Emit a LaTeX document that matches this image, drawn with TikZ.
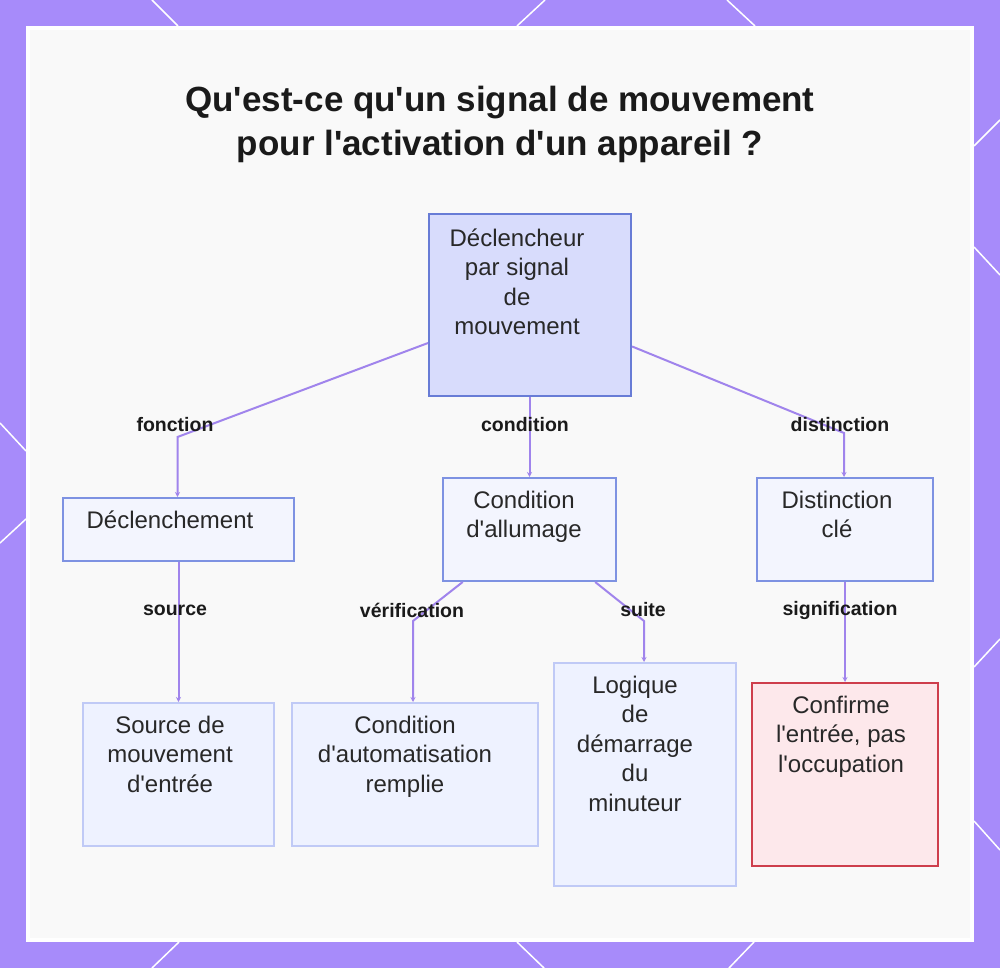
\documentclass[tikz,border=0pt]{standalone}
\usepackage{fontspec}
\setmainfont{Liberation Sans}[Ligatures=TeXOff]
\usetikzlibrary{arrows.meta,calc}
\definecolor{bgpurple}{RGB}{167,139,250}
\definecolor{panelfill}{RGB}{249,249,249}
\definecolor{textdark}{RGB}{40,40,40}
\definecolor{titledark}{RGB}{26,26,26}
\definecolor{connc}{RGB}{160,132,236}
\definecolor{rootfill}{RGB}{216,220,252}
\definecolor{rootdraw}{RGB}{104,124,214}
\definecolor{midfill}{RGB}{243,245,254}
\definecolor{middraw}{RGB}{126,146,226}
\definecolor{leaffill}{RGB}{238,242,255}
\definecolor{leafdraw}{RGB}{192,202,246}
\definecolor{redfill}{RGB}{253,232,235}
\definecolor{reddraw}{RGB}{206,62,76}
\begin{document}
\begin{tikzpicture}[x=1pt,y=-1pt,
  boxbase/.style={rectangle, anchor=north west, inner sep=0, line width=2pt},
  rootbox/.style={boxbase, fill=rootfill, draw=rootdraw},
  midbox/.style={boxbase, fill=midfill, draw=middraw},
  leafbox/.style={boxbase, fill=leaffill, draw=leafdraw},
  redbox/.style={boxbase, fill=redfill, draw=reddraw},
  btext/.style={anchor=base, align=center, inner sep=0, text=textdark,
    font=\fontsize{24}{29.5}\selectfont},
  elabel/.style={inner sep=0, text=titledark, font=\bfseries\fontsize{19.5}{22}\selectfont},
  conn/.style={draw=connc, line width=2pt, -{Stealth[length=5pt,width=5pt]}},
  deco/.style={draw=white, line width=1.5pt}]
% background
\fill[bgpurple] (0,0) rectangle (1000,968);
\useasboundingbox (0,0) rectangle (1000,968);
\draw[deco] (152,0) -- (178,26);
\draw[deco] (545,0) -- (517,26);
\draw[deco] (727,0) -- (755,26);
\draw[deco] (179,942) -- (152,968);
\draw[deco] (517,942) -- (544,968);
\draw[deco] (754,942) -- (729,968);
\draw[deco] (0,423) -- (26,451);
\draw[deco] (26,519) -- (0,543);
\draw[deco] (1000,120) -- (974,146);
\draw[deco] (974,247) -- (1000,275);
\draw[deco] (974,667) -- (1000,639);
\draw[deco] (974,821) -- (1000,850);
\fill[white] (26,26) rectangle (974,942);
\fill[panelfill] (30,30) rectangle (970,938);
% title
\node[anchor=base, inner sep=0, text=titledark, font=\bfseries\fontsize{35}{44}\selectfont] (t1) at (500,112) {Qu'est-ce qu'un signal de mouvement};
\node[anchor=base, inner sep=0, text=titledark, font=\bfseries\fontsize{35}{44}\selectfont] (t2) at (500,156) {pour l'activation d'un appareil ?};
% boxes
\node[rootbox, minimum width=202pt, minimum height=182pt] (root) at (428,213) {};
\node[midbox, minimum width=231pt, minimum height=63pt] (decl) at (62,497) {};
\node[midbox, minimum width=173pt, minimum height=103pt] (cond) at (442,477) {};
\node[midbox, minimum width=176pt, minimum height=103pt] (dist) at (756,477) {};
\node[leafbox, minimum width=191pt, minimum height=143pt] (src) at (82,702) {};
\node[leafbox, minimum width=246pt, minimum height=143pt] (auto) at (291,702) {};
\node[leafbox, minimum width=182pt, minimum height=223pt] (logi) at (553,662) {};
\node[redbox, minimum width=186pt, minimum height=183pt] (conf) at (751,682) {};
% box texts (anchored at the baseline of the last line)
\node[btext] (troot) at (517,334.5) {Déclencheur\\par signal\\de\\mouvement};
\node[btext] (tdecl) at (170,528) {Déclenchement};
\node[btext] (tcond) at (524,537.5) {Condition\\d'allumage};
\node[btext] (tdist) at (837,537.5) {Distinction\\clé};
\node[btext] (tsrc) at (170,792) {Source de\\mouvement\\d'entrée};
\node[btext] (tauto) at (405,792) {Condition\\d'automatisation\\remplie};
\node[btext] (tlogi) at (635,811) {Logique\\de\\démarrage\\du\\minuteur};
\node[btext] (tconf) at (841,772) {Confirme\\l'entrée, pas\\l'occupation};
% bend points
\coordinate (b1) at (177.5,437);
\coordinate (b3) at (844,433);
\coordinate (b4) at (413,621);
\coordinate (b5) at (644,621);
% connectors
\draw[conn] (root) -- (b1) -- (b1 |- decl.north);
\draw[conn] (root.south -| cond.north) -- (cond.north);
\draw[conn] (root) -- (b3) -- (b3 |- dist.north);
\draw[conn] (decl.south) -- (src.north);
\draw[conn] (cond) -- (b4) -- (b4 |- auto.north);
\draw[conn] (cond) -- (b5) -- (b5 |- logi.north);
\draw[conn] (dist.south) -- (conf.north);
% connector labels
\node[elabel] (lfonc) at (175,425) {fonction};
\node[elabel] (lcond) at (525,425) {condition};
\node[elabel] (ldist) at (840,425) {distinction};
\node[elabel] (lsrc) at (175,610) {source};
\node[elabel] (lverif) at (412,610) {vérification};
\node[elabel] (lsuite) at (643,610) {suite};
\node[elabel] (lsign) at (840,610) {signification};
\end{tikzpicture}
\end{document}
